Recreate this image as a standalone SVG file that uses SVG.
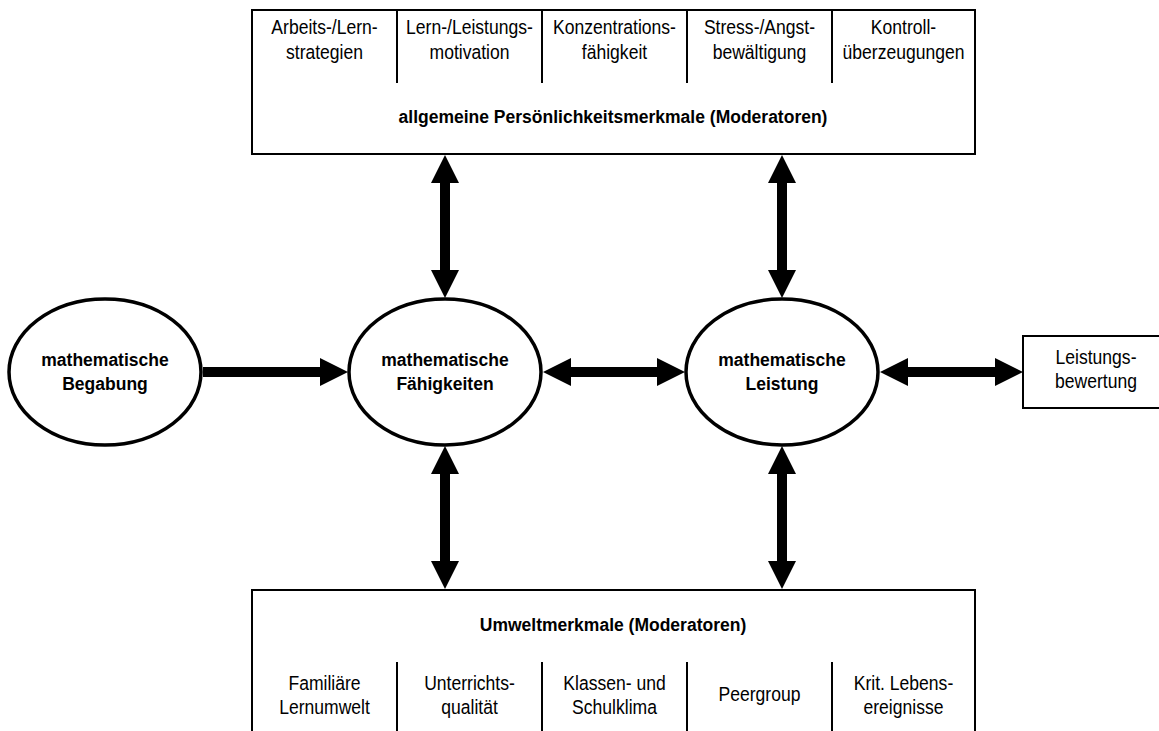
<svg xmlns="http://www.w3.org/2000/svg" width="1159" height="731" viewBox="0 0 1159 731">
<style>
.box{fill:#fff;stroke:#000;stroke-width:2}
.div{stroke:#000;stroke-width:2}
.ell{fill:#fff;stroke:#000;stroke-width:3.5}
.t{font-family:"Liberation Sans",Arial,sans-serif;font-size:19.5px;text-anchor:middle;fill:#000}
.b{font-weight:bold;font-size:17.5px}
.arr{fill:#000}
</style>
<rect width="1159" height="731" fill="#fff"/>
<g id="persoenlichkeit">
<rect class="box" x="252" y="10" width="723" height="144"/>
<line class="div" x1="397" y1="10" x2="397" y2="83"/>
<line class="div" x1="542" y1="10" x2="542" y2="83"/>
<line class="div" x1="687" y1="10" x2="687" y2="83"/>
<line class="div" x1="832" y1="10" x2="832" y2="83"/>
<text class="t" transform="translate(324.5 34) scale(0.9 1)">Arbeits-/Lern-</text>
<text class="t" transform="translate(324.5 59) scale(0.9 1)">strategien</text>
<text class="t" transform="translate(469.5 34) scale(0.9 1)">Lern-/Leistungs-</text>
<text class="t" transform="translate(469.5 59) scale(0.9 1)">motivation</text>
<text class="t" transform="translate(614.5 34) scale(0.9 1)">Konzentrations-</text>
<text class="t" transform="translate(614.5 59) scale(0.9 1)">fähigkeit</text>
<text class="t" transform="translate(759.5 34) scale(0.9 1)">Stress-/Angst-</text>
<text class="t" transform="translate(759.5 59) scale(0.9 1)">bewältigung</text>
<text class="t" transform="translate(903.5 34) scale(0.9 1)">Kontroll-</text>
<text class="t" transform="translate(903.5 59) scale(0.9 1)">überzeugungen</text>
<text class="t b" x="613" y="123">allgemeine Persönlichkeitsmerkmale (Moderatoren)</text>
</g>
<g id="umwelt">
<rect class="box" x="252" y="590" width="723" height="160"/>
<line class="div" x1="397" y1="662" x2="397" y2="731"/>
<line class="div" x1="542" y1="662" x2="542" y2="731"/>
<line class="div" x1="687" y1="662" x2="687" y2="731"/>
<line class="div" x1="832" y1="662" x2="832" y2="731"/>
<text class="t b" x="613" y="631">Umweltmerkmale (Moderatoren)</text>
<text class="t" transform="translate(324.5 690) scale(0.9 1)">Familiäre</text>
<text class="t" transform="translate(324.5 714) scale(0.9 1)">Lernumwelt</text>
<text class="t" transform="translate(469.5 690) scale(0.9 1)">Unterrichts-</text>
<text class="t" transform="translate(469.5 714) scale(0.9 1)">qualität</text>
<text class="t" transform="translate(614.5 690) scale(0.9 1)">Klassen- und</text>
<text class="t" transform="translate(614.5 714) scale(0.9 1)">Schulklima</text>
<text class="t" transform="translate(759.5 701) scale(0.9 1)">Peergroup</text>
<text class="t" transform="translate(903.5 690) scale(0.9 1)">Krit. Lebens-</text>
<text class="t" transform="translate(903.5 714) scale(0.9 1)">ereignisse</text>
</g>
<g id="begabung">
<ellipse class="ell" cx="105" cy="372" rx="96" ry="73"/>
<text class="t b" x="105" y="366">mathematische</text>
<text class="t b" x="105" y="390">Begabung</text>
</g>
<g id="faehigkeiten">
<ellipse class="ell" cx="445" cy="372" rx="96" ry="73"/>
<text class="t b" x="445" y="366">mathematische</text>
<text class="t b" x="445" y="390">Fähigkeiten</text>
</g>
<g id="leistung">
<ellipse class="ell" cx="782" cy="372" rx="96" ry="73"/>
<text class="t b" x="782" y="366">mathematische</text>
<text class="t b" x="782" y="390">Leistung</text>
</g>
<g id="bewertung">
<rect class="box" x="1023" y="336" width="146" height="72"/>
<text class="t" transform="translate(1096 364) scale(0.9 1)">Leistungs-</text>
<text class="t" transform="translate(1096 388) scale(0.9 1)">bewertung</text>
</g>
<g id="connectors" class="arr">
<polygon points="203,367 320,367 320,358 348,372 320,386 320,377 203,377"/>
<polygon points="543,372 571,358 571,367 657,367 657,358 685,372 657,386 657,377 571,377 571,386"/>
<polygon points="880,372 908,358 908,367 995,367 995,358 1023,372 995,386 995,377 908,377 908,386"/>
<polygon points="445,155 459,183 450,183 450,270 459,270 445,298 431,270 440,270 440,183 431,183"/>
<polygon points="782,155 796,183 787,183 787,270 796,270 782,298 768,270 777,270 777,183 768,183"/>
<polygon points="445,446 459,474 450,474 450,561 459,561 445,589 431,561 440,561 440,474 431,474"/>
<polygon points="782,446 796,474 787,474 787,561 796,561 782,589 768,561 777,561 777,474 768,474"/>
</g>
</svg>
